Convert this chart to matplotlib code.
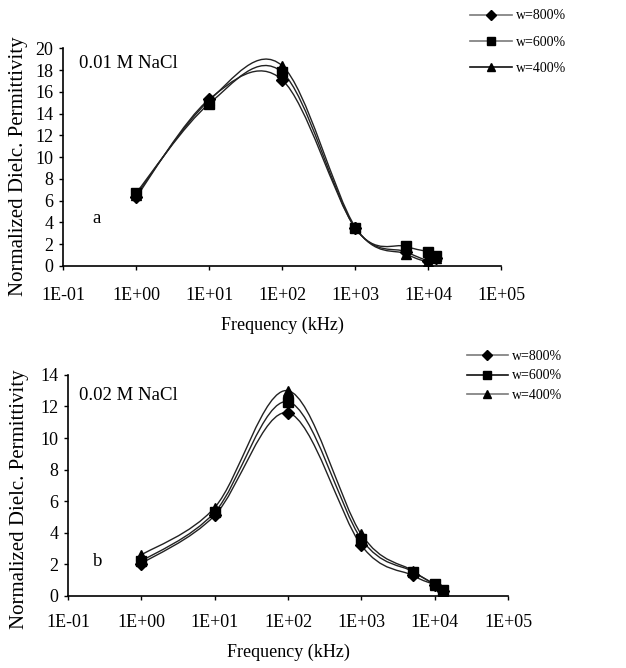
import numpy as np
import matplotlib
matplotlib.use("Agg")
import matplotlib.pyplot as plt
from matplotlib.path import Path
from matplotlib.patches import PathPatch
from matplotlib.lines import Line2D

plt.rcParams['font.family'] = ['Liberation Serif', 'DejaVu Serif']

freq = [1, 10, 100, 1000, 5000, 10000, 13000]
labels = ["w=800%", "w=600%", "w=400%"]
markers = ["D", "s", "^"]

# panel a: 0.01 M NaCl
a_800 = [6.3, 15.3, 17.1, 3.5, 1.3, 0.5, 0.7]
a_600 = [6.7, 14.9, 17.8, 3.5, 1.8, 1.3, 0.9]
a_400 = [6.5, 15.2, 18.4, 3.6, 1.1, 0.4, 0.7]
# panel b: 0.02 M NaCl
b_800 = [2.05, 5.1, 11.6, 3.2, 1.3, 0.7, 0.3]
b_600 = [2.2, 5.3, 12.3, 3.6, 1.55, 0.75, 0.4]
b_400 = [2.6, 5.6, 13.0, 3.9, 1.6, 0.7, 0.3]

xticks = [0.1, 1, 10, 100, 1000, 10000, 100000]
xticklabels = ["1E-01", "1E+00", "1E+01", "1E+02", "1E+03", "1E+04", "1E+05"]


def smooth_path(x, y, t=1/6.0):
    """Excel-style smoothed line (Bezier through the points in log-x space)."""
    lx = np.log10(np.asarray(x, float))
    yy = np.asarray(y, float)
    n = len(lx)
    P = np.column_stack([lx, yy])
    verts = [P[0]]
    codes = [Path.MOVETO]
    for i in range(n - 1):
        p0 = P[i - 1] if i > 0 else P[i]
        p1 = P[i]
        p2 = P[i + 1]
        p3 = P[i + 2] if i + 2 < n else P[i + 1]
        c1 = p1 + (p2 - p0) * t
        c2 = p2 - (p3 - p1) * t
        verts += [c1, c2, p2]
        codes += [Path.CURVE4] * 3
    verts = np.array(verts)
    verts[:, 0] = 10 ** verts[:, 0]
    return Path(verts, codes)


fig = plt.figure(figsize=(6.26, 6.68), dpi=100)

panels = [
    dict(rect=[0.1006, 0.6018, 0.700, 0.326], series=[a_800, a_600, a_400], ymax=20,
         yticks=range(0, 21, 2), title="0.01 M NaCl", letter="a",
         title_pos=(0.037, 0.93), letter_pos=(0.068, 0.22),
         ylab_pos=(-0.101, 0.459), xpad=12, xlabpad=9,
         colors=["#7a7a7a", "#7a7a7a", "#111111"],
         leg_anchor=(0.747, 0.990), leg_spacing=0.95),
    dict(rect=[0.1086, 0.1078, 0.703, 0.331], series=[b_800, b_600, b_400], ymax=14,
         yticks=range(0, 15, 2), title="0.02 M NaCl", letter="b",
         title_pos=(0.025, 0.905), letter_pos=(0.057, 0.154),
         ylab_pos=(-0.111, 0.44), xpad=10, xlabpad=9,
         colors=["#7a7a7a", "#111111", "#7a7a7a"],
         leg_anchor=(0.741, 0.480), leg_spacing=0.45),
]

for p in panels:
    ax = fig.add_axes(p["rect"])
    ax.set_xscale("log")
    ax.set_xlim(0.1, 1e5)
    ax.set_ylim(0, p["ymax"])
    for s, m, c in zip(p["series"], markers, p["colors"]):
        ax.add_patch(PathPatch(smooth_path(freq, s), facecolor="none",
                               edgecolor="#222222", lw=1.0, zorder=2))
        ax.plot(freq, s, linestyle="none", marker=m, color="black",
                markersize=7 if m != "D" else 6, zorder=3)
    ax.spines["top"].set_visible(False)
    ax.spines["right"].set_visible(False)
    ax.spines["left"].set_linewidth(1.2)
    ax.spines["bottom"].set_linewidth(1.2)
    ax.set_xticks(xticks)
    ax.set_xticklabels(xticklabels)
    ax.xaxis.set_minor_locator(matplotlib.ticker.NullLocator())
    ax.set_yticks(list(p["yticks"]))
    ax.tick_params(axis="both", direction="out", length=3, width=1, labelsize=13, pad=4)
    ax.tick_params(axis="x", pad=p["xpad"])
    ax.set_xlabel("Frequency (kHz)", fontsize=13, labelpad=p["xlabpad"])
    ax.set_ylabel("Normalized Dielc. Permittivity", fontsize=15, va="center")
    ax.yaxis.set_label_coords(*p["ylab_pos"])
    ax.text(*p["title_pos"], p["title"], transform=ax.transAxes, fontsize=13.5,
            va="center", ha="left")
    ax.text(*p["letter_pos"], p["letter"], transform=ax.transAxes, fontsize=13.5,
            va="center", ha="left")
    handles = [Line2D([0], [0], color=c, lw=1.2, marker=m, markersize=6 if m != "D" else 5,
                      markerfacecolor="black", markeredgecolor="black")
               for m, c in zip(markers, p["colors"])]
    fig.legend(handles, labels, loc="upper left", bbox_to_anchor=p["leg_anchor"],
               frameon=False, fontsize=10, handlelength=3.0, handletextpad=0.3,
               labelspacing=p["leg_spacing"], borderaxespad=0, borderpad=0.2)

fig.savefig("out.png", dpi=100)
